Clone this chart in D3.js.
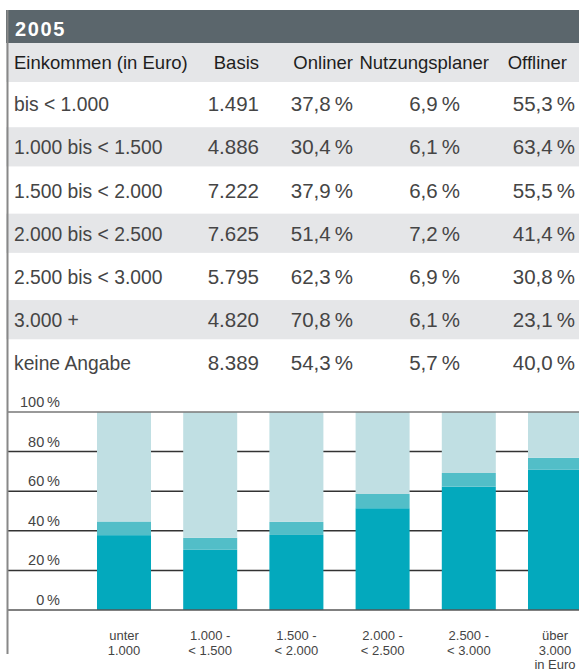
<!DOCTYPE html>
<html>
<head>
<meta charset="utf-8">
<script src="https://cdn.jsdelivr.net/npm/d3@7"></script>
<style>
  body { margin: 0; background: #fff; }
  svg { display: block; font-family: "Liberation Sans", Arial, sans-serif; }
</style>
</head>
<body>
<svg id="chart" width="579" height="671"></svg>
<script>
// data
const year = "2005";
const columns = ["Einkommen (in Euro)", "Basis", "Onliner", "Nutzungsplaner", "Offliner"];
const incomeGroups = ["bis < 1.000", "1.000 bis < 1.500", "1.500 bis < 2.000", "2.000 bis < 2.500",
  "2.500 bis < 3.000", "3.000 +", "keine Angabe"];
const basis = [1491, 4886, 7222, 7625, 5795, 4820, 8389];
const onliner = [37.8, 30.4, 37.9, 51.4, 62.3, 70.8, 54.3];
const planer = [6.9, 6.1, 6.6, 7.2, 6.9, 6.1, 5.7];
const offliner = [55.3, 63.4, 55.5, 41.4, 30.8, 23.1, 40.0];
const barLabels = [["unter", "1.000"], ["1.000 -", "< 1.500"], ["1.500 -", "< 2.000"],
  ["2.000 -", "< 2.500"], ["2.500 -", "< 3.000"], ["über", "3.000", "in Euro"]];
const yTicks = [0, 20, 40, 60, 80, 100];

const svg = d3.select("#chart");
const W = 579;
const de = d3.formatLocale({ decimal: ",", thousands: ".", grouping: [3], currency: ["", " €"] });
const fmtInt = de.format(",d");
const fmtPct = v => de.format(".1f")(v) + "\u2009%";

// title bar
svg.append("rect").attr("x", 6).attr("y", 10).attr("width", W - 6).attr("height", 33).attr("fill", "#5b666c");
svg.append("text").attr("x", 15).attr("y", 36).attr("fill", "#fff")
  .attr("font-size", 20).attr("font-weight", "bold").attr("letter-spacing", 1.6).text(year);

// table
const rowY = d3.scaleBand().domain(d3.range(incomeGroups.length)).range([82.5, 385]).paddingInner(0);
const colRight = [null, 259, 353, 460, 575];
const headRight = [null, 259, 353, 489, 567];

svg.append("rect").attr("x", 6).attr("y", 43).attr("width", W - 6).attr("height", 39).attr("fill", "#e5e6e8");
svg.selectAll("text.head").data(columns).join("text")
  .attr("class", "head")
  .attr("x", (d, i) => i === 0 ? 14 : headRight[i])
  .attr("y", 69)
  .attr("text-anchor", (d, i) => i === 0 ? "start" : "end")
  .attr("font-size", 18.5).attr("fill", "#1e1e1e")
  .text(d => d);

const rows = svg.selectAll("g.row").data(incomeGroups).join("g")
  .attr("class", "row")
  .attr("transform", (d, i) => `translate(0,${rowY(i)})`);

rows.filter((d, i) => i % 2 === 1).append("rect")
  .attr("x", 6).attr("y", 1.5).attr("width", W - 6).attr("height", rowY.bandwidth() - 4)
  .attr("fill", "#e5e6e8");

rows.each(function (d, i) {
  const cells = [d, fmtInt(basis[i]), fmtPct(onliner[i]), fmtPct(planer[i]), fmtPct(offliner[i])];
  d3.select(this).selectAll("text").data(cells).join("text")
    .attr("x", (c, j) => j === 0 ? 14 : colRight[j])
    .attr("y", rowY.bandwidth() / 2 + 7)
    .attr("text-anchor", (c, j) => j === 0 ? "start" : "end")
    .attr("font-size", (c, j) => j === 0 ? 19.3 : 20.5).attr("fill", "#454545")
    .text(c => c);
});

// chart
const y = d3.scaleLinear().domain([0, 100]).range([610, 412]);
const x = d3.scaleBand().domain(d3.range(barLabels.length)).range([80.9, 598.1])
  .paddingInner(0.3735).paddingOuter(0.1868);

const stackData = barLabels.map((l, i) => ({ i, onliner: onliner[i], planer: planer[i], offliner: offliner[i] }));
const series = d3.stack().keys(["onliner", "planer", "offliner"])(stackData);
const colors = { onliner: "#03a9bd", planer: "#52bec8", offliner: "#c0dfe3" };

// inner grid lines (behind bars)
svg.selectAll("line.grid").data(yTicks.filter(t => t > 0 && t < 100)).join("line")
  .attr("class", "grid")
  .attr("x1", 8).attr("x2", W)
  .attr("y1", d => y(d)).attr("y2", d => y(d))
  .attr("stroke", "#333").attr("stroke-width", 1.5);

svg.selectAll("g.series").data(series).join("g")
  .attr("class", "series")
  .attr("fill", s => colors[s.key])
  .selectAll("rect").data(s => s).join("rect")
  .attr("x", d => x(d.data.i))
  .attr("y", d => y(d[1]))
  .attr("width", x.bandwidth())
  .attr("height", d => y(d[0]) - y(d[1]));

// top and base lines over the bars
svg.selectAll("line.edge").data([0, 100]).join("line")
  .attr("class", "edge")
  .attr("x1", 8).attr("x2", W)
  .attr("y1", d => y(d)).attr("y2", d => y(d))
  .attr("stroke", d => d === 0 ? "#555" : "#777")
  .attr("stroke-opacity", 0.75)
  .attr("stroke-width", 2);

svg.selectAll("text.ytick").data(yTicks).join("text")
  .attr("class", "ytick")
  .attr("x", 60).attr("y", d => y(d) - 5)
  .attr("text-anchor", "end")
  .attr("font-size", 14.5).attr("fill", "#444")
  .text(d => d + "\u2009%");

svg.selectAll("text.xlab").data(barLabels).join("text")
  .attr("class", "xlab")
  .attr("x", (d, i) => x(i) + x.bandwidth() / 2)
  .attr("y", 640)
  .attr("text-anchor", "middle")
  .attr("font-size", 13).attr("fill", "#444")
  .selectAll("tspan").data(d => d).join("tspan")
  .attr("x", function () { return d3.select(this.parentNode).attr("x"); })
  .attr("dy", (d, j) => j === 0 ? 0 : 14.5)
  .text(d => d);

// left frame line
svg.append("line").attr("x1", 7.5).attr("x2", 7.5).attr("y1", 10).attr("y2", 654)
  .attr("stroke", "#888").attr("stroke-width", 2);
</script>
</body>
</html>
